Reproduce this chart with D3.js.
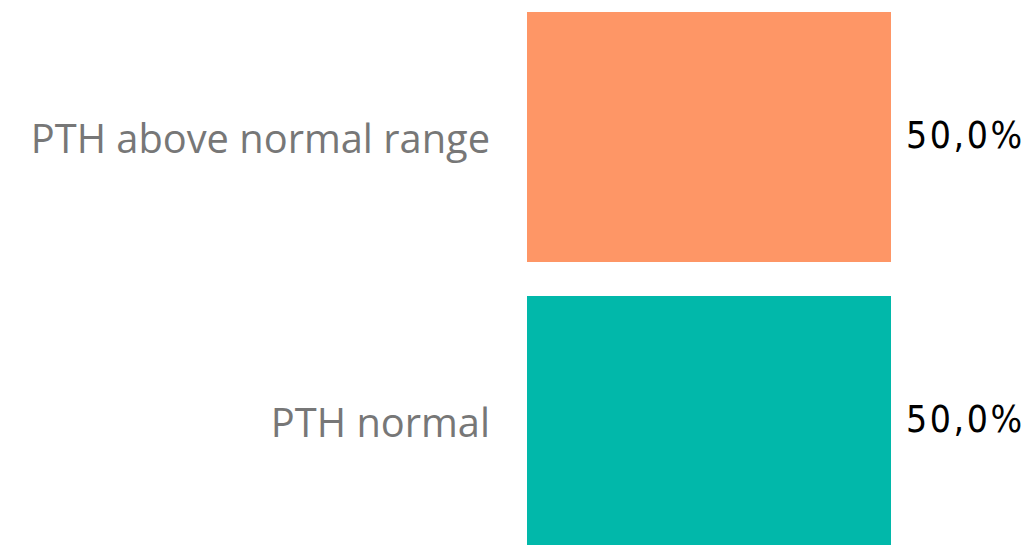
<!DOCTYPE html>
<html><head><meta charset="utf-8">
<script src="https://cdn.jsdelivr.net/npm/d3@7"></script>
<style>html,body{margin:0;padding:0;background:#fff;overflow:hidden}</style>
</head><body>
<svg id="chart" width="1036" height="545"></svg>
<script>
const categories = ["PTH above normal range", "PTH normal"];
const values = [0.5, 0.5];
const colors = ["#FE9666", "#01B8AA"];

const svg = d3.select("#chart");
const x = d3.scaleLinear().domain([0, 0.5]).range([527, 891]);
const y = d3.scaleBand().domain(categories).range([0, 558]).paddingInner(34/284).paddingOuter(12/284);
const fmt = v => d3.format(".1f")(v*100).replace(".", ",") + "%";

svg.selectAll("rect.bar").data(categories).join("rect")
  .attr("class","bar")
  .attr("x", x(0))
  .attr("y", d => y(d))
  .attr("width", (d,i) => x(values[i]) - x(0))
  .attr("height", y.bandwidth())
  .attr("fill", (d,i) => colors[i]);

svg.selectAll("text.cat").data(categories).join("text")
  .attr("class","cat")
  .attr("x", 490)
  .attr("y", d => y(d) + y.bandwidth()/2 + 16)
  .attr("text-anchor","end")
  .attr("fill","#777777")
  .style("font-family","'Open Sans', 'Noto Sans', sans-serif")
  .style("font-size","39.8px")
  .text(d => d);

svg.selectAll("text.val").data(categories).join("text")
  .attr("class","val")
  .attr("x", (d,i) => x(values[i]) + 15)
  .attr("y", d => y(d) + y.bandwidth()/2 + 11)
  .attr("fill","#000")
  .style("font-family","'DejaVu Sans Condensed', 'DejaVu Sans', sans-serif")
  .style("font-stretch","condensed")
  .style("font-size","37px")
  .style("letter-spacing","2.6px")
  .text((d,i) => fmt(values[i]));
</script>
</body></html>
